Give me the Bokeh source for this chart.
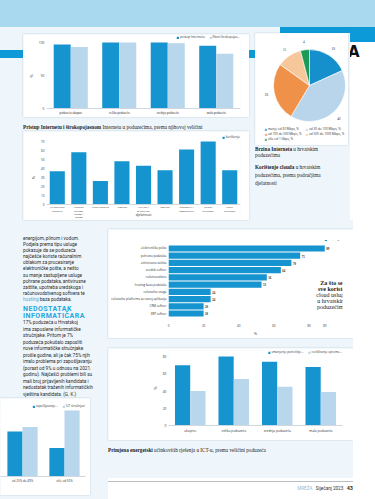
from bokeh.plotting import figure
from bokeh.models import (ColumnDataSource, Range1d, FactorRange, FixedTicker, Legend,
                          LegendItem, LabelSet, Label, Div, Span)
from bokeh.layouts import column, row
from bokeh.transform import dodge
from bokeh.embed import file_html
from bokeh.resources import INLINE
import numpy as np

# ---------------- data ----------------
size_cats = ["poduzeća ukupno", "velika poduzeća", "srednja poduzeća", "mala poduzeća"]
internet_access = [97, 100, 100, 95]
fixed_broadband = [93, 100, 99, 83]

speed_labels = ["manje od 30 Mbps, %", "od 30 do 100 Mbps, %", "od 100 do 500 Mbps, %",
                "od 500 do 1000 Mbps, %", "više od 1 Gbps, %"]
speed_values = [18, 40, 26, 11, 4]

sector_cats = ["Prerađivačka\nindustrija", "Opskrba\nstrujom,\nplinom i\nvodom", "Građevinarstvo",
               "Trgovina", "Prijevoz i\nskladištenje", "Smještaj", "Informacije i\nkomunikacije",
               "Stručne\ndjelatnosti", "Ostale\ndjelatnosti"]
cloud_by_sector = [37, 58, 26, 48, 43, 38, 61, 70, 38]

service_cats = ["elektronička pošta", "pohrana podataka", "antivirusna zaštita", "uredski softver",
                "računovodstvo", "hosting baza podataka", "računalna snaga",
                "računalna platforma za razvoj aplikacija", "CRM softver", "ERP softver"]
service_values = [89, 75, 70, 64, 56, 53, 24, 24, 20, 20]

energy_cats = ["ukupno", "velika poduzeća", "srednja poduzeća", "mala poduzeća"]
energy_measures = [70, 80, 74, 68]
energy_planned = [40, 54, 45, 39]

ict_cats = ["od 25% do 49%", "više od 50%"]
ict_hiring = [41, 26]
ict_experts = [45, 60]

# ---------------- styles ----------------
DARK = "#1594cf"
LIGHT = "#b8d6ec"
BG = "#eef6fb"
FONT = "Open Sans"
SERIF = "Liberation Serif"
pie_colors = ["#1690cc", "#b9d5ec", "#f0914a", "#f7c79c", "#1d9a55"]
SHADOW = {"box-shadow": "0 0 1.5px rgba(80,110,130,0.35)"}
FIXED = dict(sizing_mode="fixed", width_policy="fixed", height_policy="fixed")


def D(w, h, text="", styles=None):
    st = {"overflow": "hidden"}
    st.update(styles or {})
    return Div(width=w, height=h, text=text, margin=0, styles=st, **FIXED)


def base_fig(w, h, borders, **kw):
    l, r, t, b = borders
    p = figure(width=w, height=h,
               min_border_left=l, min_border_right=r, min_border_top=t, min_border_bottom=b,
               toolbar_location=None, output_backend="svg", **FIXED, **kw)
    p.outline_line_color = None
    p.background_fill_color = "white"
    p.border_fill_color = "white"
    p.styles = SHADOW
    for g in p.grid:
        g.grid_line_color = None
    return p


def style_axes(p, fs="3.3px"):
    for ax in p.axis:
        ax.major_label_text_font_size = fs
        ax.major_label_text_font = FONT
        ax.major_label_text_color = "#333333"
        ax.major_tick_line_color = None
        ax.minor_tick_line_color = None
        ax.major_tick_out = 0
        ax.major_tick_in = 0
        ax.minor_tick_out = 0
        ax.minor_tick_in = 0
        ax.axis_label_text_font_size = "4px"
        ax.axis_label_text_font_style = "normal"
        ax.axis_label_text_font = FONT
        ax.axis_label_text_color = "#333333"
        ax.major_label_standoff = 2
        ax.axis_label_standoff = 2
        ax.axis_line_color = None


def small_legend(items, loc="top_right", orientation="horizontal"):
    lg = Legend(items=items, orientation=orientation, location=loc)
    lg.label_text_font_size = "3.1px"
    lg.label_text_font = FONT
    lg.label_text_color = "#333333"
    lg.label_height = 4
    lg.label_width = 4
    lg.glyph_height = 3
    lg.glyph_width = 3
    lg.label_standoff = 1
    lg.spacing = 4
    lg.padding = 0
    lg.margin = 0
    lg.border_line_color = None
    lg.background_fill_alpha = 0
    return lg


def category_labels(p, cats, fs, pitch):
    """Category names drawn under the baseline (one row per text line)."""
    lc, lt, lo = [], [], []
    for c in cats:
        for j, part in enumerate(c.split("\n")):
            lc.append(c)
            lt.append(part)
            lo.append(-2 - pitch * j)
    s = ColumnDataSource(dict(cat=lc, t=lt, off=lo, y=[0] * len(lc)))
    p.add_layout(LabelSet(x="cat", y="y", text="t", y_offset="off", source=s,
                          text_font_size=fs, text_font=FONT, text_align="center",
                          text_baseline="top", text_color="#333333"))
    p.add_layout(Span(location=0, dimension="width", line_color="#cfd8de", line_width=1))


# ---------------- chart 2: cloud by sector ----------------
src2 = ColumnDataSource(dict(cat=sector_cats, v=cloud_by_sector))
p2 = base_fig(226, 89, (22, 9, 4, 1), x_range=FactorRange(*sector_cats),
              y_range=Range1d(-16.7, 76.7), x_axis_location=None)
r2 = p2.vbar(x="cat", top="v", width=0.7, source=src2, fill_color=DARK, line_color=None)
style_axes(p2, "3px")
p2.yaxis.ticker = FixedTicker(ticks=list(range(0, 71, 10)))
p2.yaxis.axis_label = "%"
category_labels(p2, sector_cats, "2.8px", 3.1)
p2.add_layout(Label(x=97, y=3, x_units="screen", y_units="screen", text="djelatnost",
                    text_font_size="3.4px", text_font=FONT, text_align="center",
                    text_baseline="bottom", text_color="#333333"))
p2.add_layout(small_legend([LegendItem(label="korištenje", renderers=[r2])]))

# ---------------- chart 1: internet access ----------------
src1 = ColumnDataSource(dict(cat=size_cats, a=internet_access, b=fixed_broadband))
p1 = base_fig(226, 83, (23, 4, 1, 1), x_range=FactorRange(*size_cats),
              y_range=Range1d(-12.1, 110.6), x_axis_location=None)
r1a = p1.vbar(x=dodge("cat", -0.176, range=p1.x_range), top="a", width=0.35, source=src1,
              fill_color=DARK, line_color=None)
r1b = p1.vbar(x=dodge("cat", 0.176, range=p1.x_range), top="b", width=0.35, source=src1,
              fill_color=LIGHT, line_color=None)
style_axes(p1)
p1.yaxis.ticker = FixedTicker(ticks=[0, 50, 100])
p1.yaxis.axis_label = "%"
category_labels(p1, size_cats, "3.2px", 3.4)
p1.add_layout(small_legend([LegendItem(label="pristup Internetu", renderers=[r1a]),
                            LegendItem(label="fiksni širokopojas...", renderers=[r1b])]))

cap1 = D(226, 14,
         f"<div style=\"font-family:'{SERIF}';font-size:5.2px;line-height:6px;color:#222;padding-top:3px;white-space:nowrap;\">"
         "<b>Pristup Internetu i širokopojasnom</b> Internetu u poduzećima, prema njihovoj veličini</div>")

# ---------------- pie: internet speed ----------------
frac = np.array(speed_values, dtype=float) / sum(speed_values)
cum = np.concatenate([[0.0], np.cumsum(frac)])
start = np.pi / 2 - 2 * np.pi * cum[:-1]
end = np.pi / 2 - 2 * np.pi * cum[1:]
mid = (start + end) / 2
src3 = ColumnDataSource(dict(label=speed_labels, v=[str(v) for v in speed_values],
                             start=start, end=end, color=pie_colors,
                             lx=44 * np.cos(mid), ly=44 * np.sin(mid)))
p3 = figure(width=93, height=112, x_range=Range1d(-54, 39), y_range=Range1d(-60, 52),
            x_axis_location=None, y_axis_location=None, toolbar_location=None,
            output_backend="svg", min_border=0, **FIXED)
p3.outline_line_color = None
p3.grid.grid_line_color = None
p3.styles = SHADOW
rp = p3.wedge(x=0, y=0, radius=36, start_angle="start", end_angle="end", direction="clock",
              fill_color="color", line_color="white", line_width=0.6, source=src3)
p3.add_layout(LabelSet(x="lx", y="ly", text="v", source=src3, text_font_size="3.4px",
                       text_font=FONT, text_align="center", text_baseline="middle",
                       text_color="#333333"))
lg3 = small_legend([LegendItem(label=l, renderers=[rp], index=i) for i, l in enumerate(speed_labels)],
                   loc=(9, 4))
lg3.ncols = 2
lg3.label_width = 36
lg3.spacing = 1
p3.add_layout(lg3)

cap3 = D(95, 17,
         f"<div style=\"font-family:'{SERIF}';font-size:5.2px;line-height:5.6px;color:#222;padding-top:1px;\">"
         "<b>Brzina Interneta</b> u hrvatskim<br>poduzećima</div>")
cap_cloud = D(95, 58,
              f"<div style=\"font-family:'{SERIF}';font-size:5.2px;line-height:8px;color:#222;padding-top:1px;\">"
              "<b>Korištenje clouda</b> u hrvatskim<br>poduzećima, prema područjima<br>djelatnosti</div>")

# ---------------- chart 3: cloud services ----------------
src4 = ColumnDataSource(dict(cat=service_cats, v=service_values, t=[str(v) for v in service_values]))
p4 = base_fig(245, 109, (60, 8, 11, 12), x_range=Range1d(0, 99.1),
              y_range=FactorRange(*service_cats[::-1], range_padding=0.6,
                                  range_padding_units="absolute"))
r4 = p4.hbar(y="cat", left=0, right="v", height=0.85, source=src4, fill_color=DARK, line_color=None)
style_axes(p4, "3px")
p4.xaxis.ticker = FixedTicker(ticks=[0, 20, 40, 60, 80, 89])
p4.xaxis.axis_label = "%"
p4.xaxis.axis_label_standoff = 1
p4.add_layout(LabelSet(x="v", y="cat", text="t", source=src4, x_offset=1.5, text_font_size="3px",
                       text_font=FONT, text_baseline="middle", text_color="#222222",
                       text_font_style="bold"))
p4.add_layout(small_legend([LegendItem(label="% usluge", renderers=[r4])], loc=(156, 80)))
p4.add_layout(Label(x=163, y=42, x_units="screen", y_units="screen", text="Za što se\nsve koriste",
                    text_font=SERIF, text_font_size="6px", text_font_style="bold",
                    text_align="center", text_baseline="top", text_color="#1a1a1a",
                    text_line_height=1.0))
p4.add_layout(Label(x=163, y=30, x_units="screen", y_units="screen",
                    text="cloud usluge\nu hrvatskim\npoduzećima",
                    text_font=SERIF, text_font_size="6px", text_align="center",
                    text_baseline="top", text_color="#1a1a1a", text_line_height=1.0))

# ---------------- chart 4: energy efficiency ----------------
src5 = ColumnDataSource(dict(cat=energy_cats, a=energy_measures, b=energy_planned))
p5 = base_fig(245, 92, (28, 11, 2, 15), x_range=FactorRange(*energy_cats), y_range=Range1d(0, 87))
r5a = p5.vbar(x=dodge("cat", -0.176, range=p5.x_range), top="a", width=0.35, source=src5,
              fill_color=DARK, line_color=None)
r5b = p5.vbar(x=dodge("cat", 0.176, range=p5.x_range), top="b", width=0.35, source=src5,
              fill_color=LIGHT, line_color=None)
style_axes(p5)
p5.yaxis.ticker = FixedTicker(ticks=[0, 20, 40, 60, 80])
p5.yaxis.axis_label = "%"
p5.xaxis.axis_line_color = "#cfd8de"
p5.add_layout(small_legend([LegendItem(label="smanjenje potrošnje...", renderers=[r5a]),
                            LegendItem(label="recikliranje opreme...", renderers=[r5b])]))

cap5 = D(245, 38,
         f"<div style=\"font-family:'{SERIF}';font-size:5.2px;line-height:6px;color:#222;padding-top:3px;white-space:nowrap;\">"
         "<b>Primjena energetski</b> učinkovitih rješenja u ICT-u, prema veličini poduzeća</div>")
footer = D(245, 13,
           "<div style=\"border-top:1.5px solid #b9bec2;width:245px;height:13px;text-align:right;"
           "font-family:Roboto;font-size:4.6px;color:#333;padding-top:3px;box-sizing:border-box;\">"
           "<span style='color:#9bbbd0;'>MREŽA</span>&nbsp;&nbsp; Siječanj 2023 &nbsp;&nbsp;"
           "<b style='font-size:5.5px;'>43</b></div>",
           styles={"background-color": "white"})

# ---------------- chart 5: ICT experts (cut at left edge) ----------------
ict_x = list(range(len(ict_cats)))
src6 = ColumnDataSource(dict(x=ict_x, a=ict_hiring, b=ict_experts))
p6 = base_fig(90, 97, (0, 5, 6, 19), x_range=Range1d(-0.524, 1.5), y_range=Range1d(0, 65.5),
              y_axis_location=None)
r6a = p6.vbar(x=dodge("x", -0.18), top="a", width=0.36, source=src6, fill_color=DARK, line_color=None)
r6b = p6.vbar(x=dodge("x", 0.18), top="b", width=0.36, source=src6, fill_color=LIGHT, line_color=None)
style_axes(p6, "3px")
p6.xaxis.ticker = FixedTicker(ticks=ict_x)
p6.xaxis.major_label_overrides = {i: c for i, c in zip(ict_x, ict_cats)}
p6.xaxis.axis_line_color = "#cfd8de"
p6.add_layout(small_legend([LegendItem(label="zapošljavanje...", renderers=[r6a]),
                            LegendItem(label="ICT stručnjaci", renderers=[r6b])]))

# ---------------- text column ----------------
body = "font-family:Roboto;font-size:4.7px;color:#2a2a2a;white-space:nowrap;"
text_html = (
    f"<div style=\"padding-top:16px;width:85px;{body}\">"
    "<div style='line-height:6.1px;'>energijom, plinom i vodom.<br>Podjela prema tipu usluge<br>"
    "pokazuje da se poduzeća<br>najčešće koriste računalnim<br>oblakom za procesiranje<br>"
    "elektroničke pošte, a nešto<br>su manje zastupljene usluge<br>pohrane podataka, antivirusne<br>"
    "zaštite, upotreba uredskoga i<br>računovodstvenog softvera te<br>"
    "<span style='color:#4ea6d8;'>hosting</span> baza podataka.</div>"
    "<div style='margin-top:3px;color:#1ea6de;font-weight:bold;font-size:7px;line-height:7px;"
    "letter-spacing:0.5px;'>NEDOSTATAK<br>INFORMATIČARA</div>"
    "<div style='margin-top:0px;line-height:6.5px;'>17% poduzeća u Hrvatskoj<br>"
    "ima zaposlene informatičke<br>stručnjake. Pritom je 7%<br>poduzeća pokušalo zaposliti<br>"
    "nove informatičke stručnjake<br>prošle godine, ali je čak 75% njih<br>"
    "imalo problema pri zapošljavanju<br>(porast od 9% u odnosu na 2021.<br>"
    "godinu). Najčešći problemi bili su<br>mali broj prijavljenih kandidata i<br>"
    "nedostatak traženih informatičkih<br>vještina kandidata. (G. K.)</div></div>")
text_div = Div(width=85, height=178, text=text_html, margin=0,
               styles={"overflow": "visible"}, **FIXED)

# ---------------- page layout ----------------
stripe = "linear-gradient(to bottom, rgba(0,0,0,0) 17px, #0c9ad8 17px, #0c9ad8 25px, rgba(0,0,0,0) 25px)"
banner = D(375, 27, styles={"background-color": "#a8d9ee"})
gap = D(375, 6, styles={"background": "linear-gradient(to right, rgba(0,0,0,0) 280px, #0c9ad8 280px)"})
left_strip = D(23, 187, styles={"background": stripe})
mid_strip = D(6, 187, styles={"background": stripe})
right_strip = D(25, 187,
                "<div style=\"padding-top:12px;font-family:'DejaVu Sans';font-weight:bold;"
                "font-size:15px;line-height:15px;color:#111;margin-left:-2px;\">A</div>",
                styles={"background": "linear-gradient(to bottom, #0c9ad8 9px, #ffffff 9px)"})

col1 = column(D(226, 1), p1, cap1, p2, width=226, height=187, sizing_mode="fixed")
col1b = column(p3, cap3, cap_cloud, width=95, height=187, sizing_mode="fixed")
row1 = row(left_strip, col1, mid_strip, col1b, right_strip, width=375, height=187,
           sizing_mode="fixed")

left2 = column(row(D(23, 178), text_div, width=108, height=178, sizing_mode="fixed"), p6,
               width=108, height=279, sizing_mode="fixed")
right2 = column(D(245, 9), p4, D(245, 10), p5, cap5, footer,
                D(245, 8, styles={"background-color": "white"}),
                width=245, height=279, sizing_mode="fixed")
row2 = row(left2, right2, D(22, 279, styles={"background-color": "white"}),
           width=375, height=279, sizing_mode="fixed")

page = column(banner, gap, row1, row2, width=375, height=499, sizing_mode="fixed",
              styles={"background-color": BG})

open("out.html", "w").write(file_html(page, INLINE))
